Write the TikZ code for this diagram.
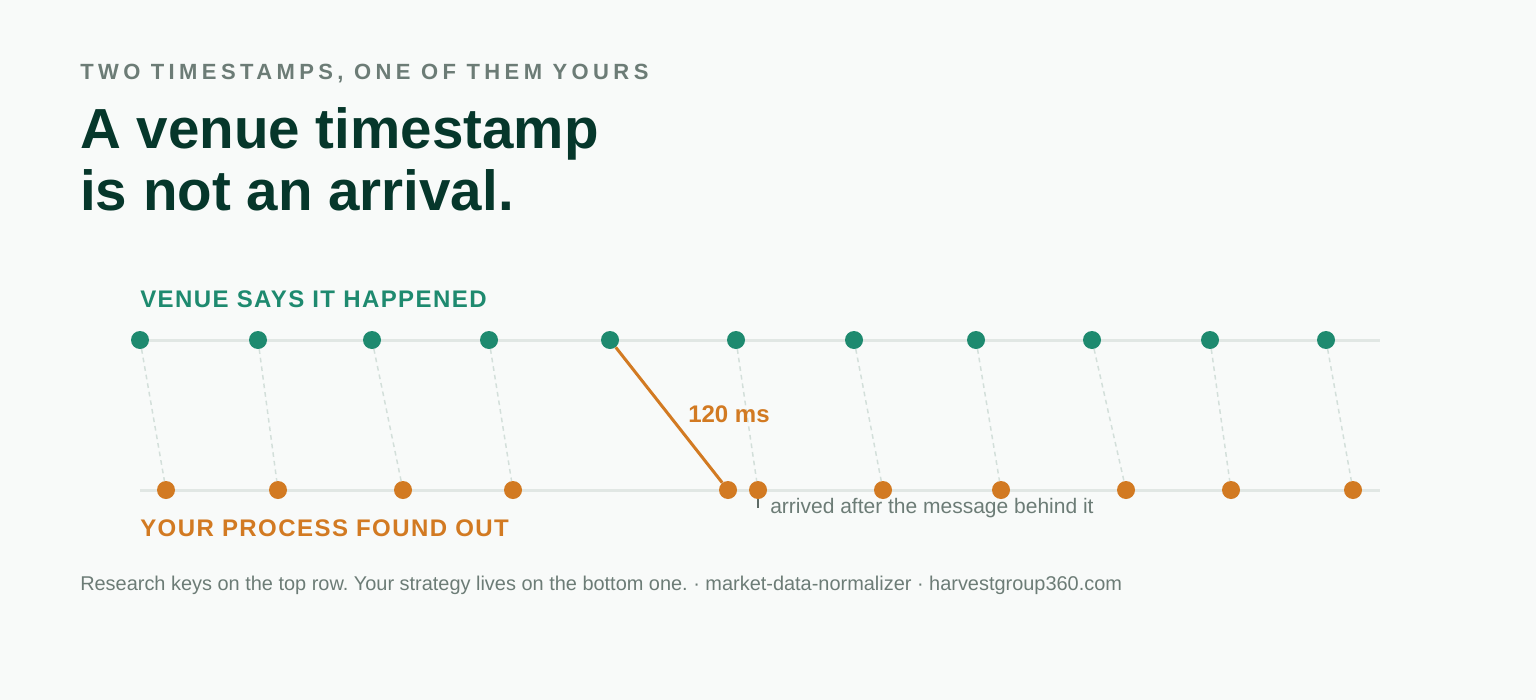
\documentclass[tikz,border=0pt]{standalone}
\usepackage{fontspec}
\setmainfont{Liberation Sans}
\usetikzlibrary{positioning}

\definecolor{pagebg}{HTML}{F8FAF9}
\definecolor{inkdark}{HTML}{06372B}
\definecolor{inkgray}{HTML}{6C7C76}
\definecolor{venueteal}{HTML}{1E8A6F}
\definecolor{procorange}{HTML}{D27A22}
\definecolor{railgray}{HTML}{E1E7E4}
\definecolor{dashgray}{HTML}{D3DFDA}
\definecolor{tickgray}{HTML}{5E6B66}

\tikzset{
  venuedot/.style={circle, fill=venueteal, inner sep=0pt, minimum size=13.5pt},
  procdot/.style={circle, fill=procorange, inner sep=0pt, minimum size=13.5pt},
  rail/.style={line width=2.25pt, color=railgray},
  lag/.style={line width=1.1pt, color=dashgray, dash pattern=on 3.5pt off 3pt},
  lateone/.style={line width=2.25pt, color=procorange},
  rowlabel/.style={anchor=base west, inner sep=0pt, font=\fontsize{18}{21}\selectfont\bfseries\addfontfeature{LetterSpace=6}},
  note/.style={anchor=base west, inner sep=0pt, text=inkgray}
}

\begin{document}
\frenchspacing
\begin{tikzpicture}[x=0.75pt, y=-0.75pt]
		%%%%% START %%%%%
		
		\fill[pagebg] (0, 0) rectangle (1536, 700);
		\useasboundingbox (0, 0) rectangle (1536, 700);
		
		% heading
		\node[note, font=\fontsize{16.5}{20}\selectfont\bfseries\addfontfeature{LetterSpace=20}] (kicker) at (80, 79) {TWO TIMESTAMPS, ONE OF THEM YOURS};
		\node[anchor=base west, inner sep=0pt, text=inkdark, font=\fontsize{42.4}{46}\selectfont\bfseries] (head1) at (80, 148) {A venue timestamp};
		\node[anchor=base west, inner sep=0pt, text=inkdark, font=\fontsize{42.4}{46}\selectfont\bfseries] (head2) at (80, 210) {is not an arrival.};
		
		% rows
		\node[rowlabel, text=venueteal] (venuelabel) at (140, 307.5) {VENUE SAYS IT HAPPENED};
		\node[rowlabel, text=procorange] (proclabel) at (140, 536) {YOUR PROCESS FOUND OUT};
		
		\draw[rail] (140, 340) -- (1380, 340);
		\draw[rail] (140, 490) -- (1380, 490);
		
		\foreach \x [count=\i] in {140, 258, 372, 489, 610, 736, 854, 976, 1092, 1210, 1326}
			\node[venuedot] (v\i) at (\x, 340) {};
		\foreach \x [count=\i] in {166, 278, 403, 513, 728, 758, 883, 1001, 1126, 1231, 1353}
			\node[procdot] (p\i) at (\x, 490) {};
		
		\foreach \i in {1, 2, 3, 4, 6, 7, 8, 9, 10, 11}
			\draw[lag] (v\i) -- (p\i);
		\draw[lateone] (v5) -- (p5);
		
		\node[anchor=base, inner sep=0pt, text=procorange, font=\fontsize{18}{21}\selectfont\bfseries] (delay) at (729, 422) {120 ms};
		
		% the out-of-order one
		\coordinate (tickend) at (758, 508);
		\draw[line width=1.1pt, color=tickgray] (p6.south) -- (tickend);
		\node[note, font=\fontsize{15.75}{19}\selectfont] (arrived) at (770, 513.5) {arrived after the message behind it};
		
		% footer
		\node[note, font=\fontsize{14.95}{18}\selectfont] (footer) at (80, 590) {Research keys on the top row. Your strategy lives on the bottom one. · market-data-normalizer · harvestgroup360.com};
		
		%%%%% END %%%%%
	\end{tikzpicture}
\end{document}
